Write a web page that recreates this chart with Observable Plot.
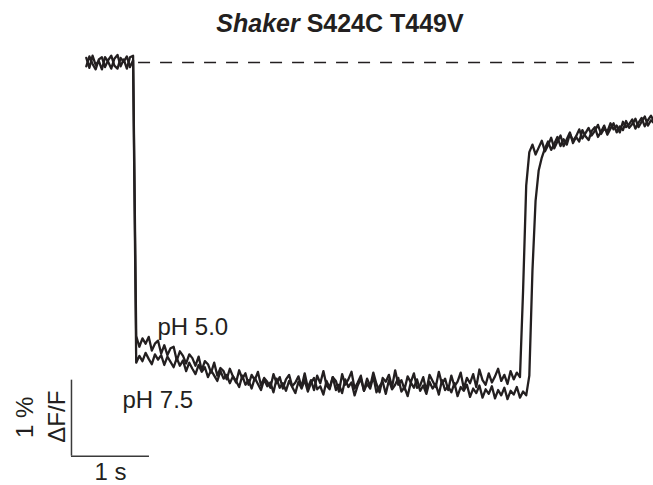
<!DOCTYPE html>
<html>
<head>
<meta charset="utf-8">
<script src="https://cdn.jsdelivr.net/npm/d3@7"></script>
<script src="https://cdn.jsdelivr.net/npm/@observablehq/plot@0.6"></script>
<style>
  html, body { margin: 0; padding: 0; background: #fff; }
  #fig { position: relative; width: 653px; height: 485px; font-family: "Liberation Sans", Arial, sans-serif; }
  #title { position: absolute; left: 27px; right: 0; top: 8px; line-height: 30px; text-align: center;
           font-size: 25px; font-weight: bold; color: #231f20; white-space: nowrap; }
  #chart { position: absolute; left: 0; top: 0; }
</style>
</head>
<body>
<div id="fig">
  <div id="chart"></div>
  <div id="title"><i>Shaker</i> S424C T449V</div>
</div>
<script>
// Fluorescence traces (ΔF/F, %) sampled every 40 ms, baseline = 0
const sampleStep = 0.04; // s

const tracePH50 = [
  0.06, -0.07, 0.09, -0.03, 0.02, -0.09, 0.07, 0.01, -0.08, 0.05, 0.10, -0.05, 0.04, -0.08, 0.07, 0.09,
  -3.60, -3.74, -3.63, -3.70, -3.61, -3.79, -3.70, -3.66, -3.83, -3.72, -3.85, -3.76, -3.74, -3.92,
  -3.80, -3.86, -3.96, -3.84, -3.89, -3.99, -3.87, -4.05, -3.93, -3.97, -4.08, -3.95, -4.12, -4.02,
  -4.06, -4.17, -4.03, -4.13, -4.21, -4.05, -4.16, -4.09, -4.24, -4.11, -4.18, -4.07, -4.25, -4.15,
  -4.20, -4.28, -4.10, -4.22, -4.14, -4.29, -4.17, -4.11, -4.26, -4.21, -4.13, -4.27,
  -4.09, -4.28, -4.18, -4.31, -4.12, -4.22, -4.06, -4.25, -4.30, -4.14,
  -4.19, -4.33, -4.10, -4.24, -4.17, -4.07, -4.29, -4.21, -4.12, -4.32,
  -4.16, -4.26, -4.08, -4.23, -4.34, -4.15, -4.20, -4.11, -4.27, -4.05,
  -4.24, -4.18, -4.30, -4.13, -4.21, -4.09, -4.28, -4.25, -4.14, -4.32,
  -4.11, -4.19, -4.27, -4.07, -4.23, -4.16, -4.31, -4.12, -4.26, -4.20,
  -4.08, -4.29, -4.15, -4.22, -4.10, -4.27, -4.04, -4.18, -4.24, -4.09,
  -4.21, -4.13, -4.03, -4.19, -4.11, -4.23, -4.06, -4.17, -4.08, -4.14,
  -3.00, -1.62, -1.18,
  -1.08, -1.21, -1.12, -1.03, -1.17, -1.09, -0.99, -1.13, -1.04, -0.96,
  -1.10, -1.01, -0.92, -1.06, -0.98, -1.04, -0.89, -0.97, -1.02, -0.90,
  -0.85, -0.98, -0.91, -0.83, -0.95, -0.87, -0.80, -0.92, -0.84, -0.89,
  -0.77, -0.86, -0.81, -0.74, -0.85, -0.78, -0.71, -0.83, -0.76, -0.80
];

const tracePH75 = [
  -0.05, 0.08, -0.02, -0.09, 0.04, 0.07, -0.06, 0.03, 0.09, -0.04, -0.08, 0.06, 0.01, 0.08, -0.06, 0.03,
  -3.95, -3.86, -3.93, -3.82, -3.90, -3.97, -3.84, -3.91, -3.85, -3.98,
  -3.87, -3.94, -4.01, -3.89, -3.99, -3.92, -4.06, -3.95, -4.03, -4.10,
  -3.98, -4.07, -4.01, -4.14, -4.05, -4.12, -4.19, -4.06, -4.16, -4.11,
  -4.22, -4.13, -4.19, -4.27, -4.12, -4.24, -4.18, -4.29, -4.15, -4.23,
  -4.31, -4.17, -4.26, -4.21, -4.34, -4.16, -4.28, -4.22, -4.32, -4.19,
  -4.27, -4.35, -4.20, -4.29,
  -4.18, -4.33, -4.22, -4.15, -4.30, -4.26, -4.37, -4.19, -4.28, -4.14,
  -4.31, -4.24, -4.35, -4.17, -4.27, -4.21, -4.38, -4.25, -4.16, -4.32,
  -4.23, -4.29, -4.13, -4.34, -4.26, -4.20, -4.36, -4.18, -4.30, -4.24,
  -4.15, -4.33, -4.27, -4.39, -4.21, -4.28, -4.17, -4.32, -4.25, -4.36,
  -4.20, -4.29, -4.23, -4.37, -4.18, -4.31, -4.26, -4.34, -4.22, -4.39,
  -4.27, -4.32, -4.24, -4.40, -4.29, -4.35, -4.25, -4.41, -4.30, -4.36,
  -4.26, -4.42, -4.31, -4.38, -4.28, -4.43, -4.32, -4.37, -4.27, -4.41,
  -4.33, -4.38,
  -4.12, -2.74, -1.82, -1.42, -1.25,
  -1.13, -1.04, -1.15, -1.07, -0.98, -1.10, -1.01, -1.08, -0.94, -1.03,
  -0.97, -0.88, -1.00, -0.93, -0.86, -0.96, -0.90, -0.82, -0.94, -0.87,
  -0.91, -0.80, -0.88, -0.83, -0.92, -0.78, -0.85, -0.81, -0.75, -0.87,
  -0.79, -0.73, -0.84, -0.76, -0.70, -0.78
];

const traceLabels = ["pH 5.0", "pH 7.5"];

// Reference level (pre-step baseline) drawn as a dashed guide
const guideLevel = 0;
const guideStart = 0.67, guideEnd = 7.14; // s

// Scale bars: 1 s and 1 % ΔF/F
const barTime = 1, barDff = 1;
const barOrigin = {t: -0.19, dff: -5.18};

// Build tidy rows for the line marks
const rows = [];
[tracePH50, tracePH75].forEach((vals, k) => {
  vals.forEach((v, i) => rows.push({series: traceLabels[k], t: i * sampleStep, dff: v}));
});

const ink = "#231f20";
const font = "Liberation Sans, Arial, sans-serif";

const chart = Plot.plot({
  width: 653,
  height: 485,
  margin: 0,
  style: {background: "transparent", fontFamily: font},
  x: {domain: [-1.1, 7.272], range: [0, 653], axis: null},
  y: {domain: [-5.566, 0.816], range: [485, 0], axis: null},
  marks: [
    Plot.ruleY([guideLevel], {x1: guideStart, x2: guideEnd, stroke: ink, strokeWidth: 1.4, strokeDasharray: "12,10"}),
    Plot.line(rows, {x: "t", y: "dff", z: "series", stroke: ink, strokeWidth: 2.3, strokeLinejoin: "round"}),
    // scale bars
    Plot.ruleX([barOrigin.t], {y1: barOrigin.dff, y2: barOrigin.dff + barDff, stroke: "#3a3a3a", strokeWidth: 1.5}),
    Plot.ruleY([barOrigin.dff], {x1: barOrigin.t, x2: barOrigin.t + barTime, stroke: "#3a3a3a", strokeWidth: 1.5}),
    // labels
    Plot.text([traceLabels[0]], {x: 0.913, y: -3.58, text: d => d, textAnchor: "start", lineAnchor: "bottom", fontSize: 24, fill: ink}),
    Plot.text([traceLabels[1]], {x: 0.464, y: -4.54, text: d => d, textAnchor: "start", lineAnchor: "bottom", fontSize: 24, fill: ink}),
    Plot.text(["1 s"], {x: barOrigin.t + barTime / 2, y: -5.50, text: d => d, textAnchor: "middle", lineAnchor: "bottom", fontSize: 24, fill: ink}),
    Plot.text(["1 %"], {x: -0.677, y: barOrigin.dff + barDff / 2 + 0.01, text: d => d, rotate: -90, textAnchor: "middle", lineAnchor: "bottom", fontSize: 24, fill: ink}),
    Plot.text(["ΔF/F"], {x: -0.267, y: barOrigin.dff + barDff / 2 + 0.02, text: d => d, rotate: -90, textAnchor: "middle", lineAnchor: "bottom", fontSize: 24, fill: ink})
  ]
});
document.getElementById("chart").appendChild(chart);
</script>
</body>
</html>
